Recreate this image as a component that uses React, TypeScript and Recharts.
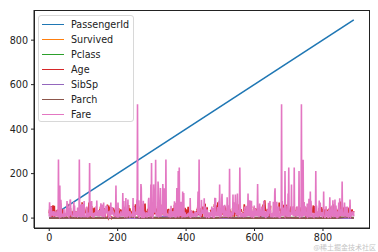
import React from "react";
import { Line, LineChart, XAxis, YAxis } from "recharts";

// Titanic train set, row index 0..890
const fare = [
  7.25, 71.2833, 7.925, 53.1, 8.05, 8.4583, 51.8625, 21.075, 11.1333, 30.0708, 16.7, 26.55, 8.05, 31.275, 7.8542, 16, 29.125, 13, 18, 7.225,
  26, 13, 8.0292, 35.5, 21.075, 31.3875, 7.225, 263, 7.8792, 7.8958, 27.7208, 146.5208, 7.75, 10.5, 82.1708, 52, 7.2292, 8.05, 18, 11.2417,
  9.475, 21, 7.8958, 41.5792, 7.8792, 8.05, 15.5, 7.75, 21.6792, 17.8, 39.6875, 7.8, 76.7292, 26, 61.9792, 35.5, 10.5, 7.2292, 27.75, 46.9,
  7.2292, 80, 83.475, 27.9, 27.7208, 15.2458, 10.5, 8.1583, 7.925, 8.6625, 10.5, 46.9, 73.5, 14.4542, 56.4958, 7.65, 7.8958, 8.05, 29, 12.475,
  9, 9.5, 7.7875, 47.1, 10.5, 15.85, 34.375, 8.05, 263, 8.05, 8.05, 7.8542, 61.175, 20.575, 7.25, 8.05, 34.6542, 63.3583, 23, 26,
  7.8958, 7.8958, 77.2875, 8.6542, 7.925, 7.8958, 7.65, 7.775, 7.8958, 24.15, 52, 14.4542, 8.05, 9.825, 14.4583, 7.925, 7.75, 21, 247.5208, 31.275,
  73.5, 8.05, 30.0708, 13, 77.2875, 11.2417, 7.75, 7.1417, 22.3583, 6.975, 7.8958, 7.05, 14.5, 26, 13, 15.0458, 26.2833, 53.1, 9.2167, 79.2,
  15.2458, 7.75, 15.85, 6.75, 11.5, 36.75, 7.7958, 34.375, 26, 13, 12.525, 66.6, 8.05, 14.5, 7.3125, 61.3792, 7.7333, 8.05, 8.6625, 69.55,
  16.1, 15.75, 7.775, 8.6625, 39.6875, 20.525, 55, 27.9, 25.925, 56.4958, 33.5, 29.125, 11.1333, 7.925, 30.6958, 7.8542, 25.4667, 28.7125, 13, 0,
  69.55, 15.05, 31.3875, 39, 22.025, 50, 15.5, 26.55, 15.5, 7.8958, 13, 13, 7.8542, 26, 27.7208, 146.5208, 7.75, 8.4042, 7.75, 13,
  9.5, 69.55, 6.4958, 7.225, 8.05, 10.4625, 15.85, 18.7875, 7.75, 31, 7.05, 21, 7.25, 13, 7.75, 113.275, 7.925, 27, 76.2917, 10.5,
  8.05, 13, 8.05, 7.8958, 90, 9.35, 10.5, 7.25, 13, 25.4667, 83.475, 7.775, 13.5, 31.3875, 10.5, 7.55, 26, 26.25, 10.5, 12.275,
  14.4542, 15.5, 10.5, 7.125, 7.225, 90, 7.775, 14.5, 52.5542, 26, 7.25, 10.4625, 26.55, 16.1, 20.2125, 15.2458, 79.2, 86.5, 512.3292, 26,
  7.75, 31.3875, 79.65, 0, 7.75, 10.5, 39.6875, 7.775, 153.4625, 135.6333, 31, 0, 19.5, 29.7, 7.75, 77.9583, 7.75, 0, 29.125, 20.25,
  7.75, 7.8542, 9.5, 8.05, 26, 8.6625, 9.5, 7.8958, 13, 7.75, 78.85, 91.0792, 12.875, 8.85, 7.8958, 27.7208, 7.2292, 151.55, 30.5, 247.5208,
  7.75, 23.25, 0, 12.35, 8.05, 151.55, 110.8833, 108.9, 24, 56.9292, 83.1583, 262.375, 26, 7.8958, 26.25, 7.8542, 26, 14, 164.8667, 134.5,
  7.25, 7.8958, 12.35, 29, 69.55, 135.6333, 6.2375, 13, 20.525, 57.9792, 23.25, 28.5, 153.4625, 18, 133.65, 7.8958, 66.6, 134.5, 8.05, 35.5,
  26, 263, 13, 13, 13, 13, 13, 16.1, 15.9, 8.6625, 9.225, 35, 7.2292, 17.8, 7.225, 9.5, 55, 13, 7.8792, 7.8792,
  27.9, 27.7208, 14.4542, 7.05, 15.5, 7.25, 75.25, 7.2292, 7.75, 69.3, 55.4417, 6.4958, 8.05, 135.6333, 21.075, 82.1708, 7.25, 211.5, 4.0125, 7.775,
  227.525, 15.7417, 7.925, 52, 7.8958, 73.5, 46.9, 13, 7.7292, 12, 120, 7.7958, 7.925, 113.275, 16.7, 7.7958, 7.8542, 26, 10.5, 12.65,
  7.925, 8.05, 9.825, 15.85, 8.6625, 21, 7.75, 18.75, 7.775, 25.4667, 7.8958, 6.8583, 90, 0, 7.925, 8.05, 32.5, 13, 13, 24.15,
  7.8958, 7.7333, 7.875, 14.4, 20.2125, 7.25, 26, 26, 7.75, 8.05, 26.55, 16.1, 26, 7.125, 55.9, 120, 34.375, 18.75, 263, 10.5,
  26.25, 9.5, 7.775, 13, 8.1125, 81.8583, 19.5, 26.55, 19.2583, 30.5, 27.75, 19.9667, 27.75, 89.1042, 8.05, 7.8958, 26.55, 51.8625, 10.5, 7.75,
  26.55, 8.05, 38.5, 13, 8.05, 7.05, 0, 26.55, 7.725, 19.2583, 7.25, 8.6625, 27.75, 13.7917, 9.8375, 52, 21, 7.0458, 7.5208, 12.2875,
  46.9, 0, 8.05, 9.5875, 91.0792, 25.4667, 90, 29.7, 8.05, 15.9, 19.9667, 7.25, 30.5, 49.5042, 8.05, 14.4583, 78.2667, 15.1, 151.55, 7.7958,
  8.6625, 7.75, 7.6292, 9.5875, 86.5, 108.9, 26, 26.55, 22.525, 56.4958, 7.75, 8.05, 26.2875, 59.4, 7.4958, 34.0208, 10.5, 24.15, 26, 7.8958,
  93.5, 7.8958, 7.225, 57.9792, 7.2292, 7.75, 10.5, 221.7792, 7.925, 11.5, 26, 7.2292, 7.2292, 22.3583, 8.6625, 26.25, 26.55, 106.425, 14.5, 49.5,
  71, 31.275, 31.275, 26, 106.425, 26, 26, 13.8625, 20.525, 36.75, 110.8833, 26, 7.8292, 7.225, 7.775, 26.55, 39.6, 227.525, 79.65, 17.4,
  7.75, 7.8958, 13.5, 8.05, 8.05, 24.15, 7.8958, 21.075, 7.2292, 7.8542, 10.5, 51.4792, 26.3875, 7.75, 8.05, 14.5, 13, 55.9, 14.4583, 7.925,
  30, 110.8833, 26, 40.125, 8.7125, 79.65, 15, 79.2, 8.05, 8.05, 7.125, 78.2667, 7.25, 7.75, 26, 24.15, 33, 0, 7.225, 56.9292,
  27, 7.8958, 42.4, 8.05, 26.55, 15.55, 7.8958, 30.5, 41.5792, 153.4625, 31.275, 7.05, 15.5, 7.75, 8.05, 65, 14.4, 16.1, 39, 10.5,
  14.4542, 52.5542, 15.7417, 7.8542, 16.1, 32.3208, 12.35, 77.9583, 7.8958, 7.7333, 30, 7.0542, 30.5, 0, 27.9, 13, 7.925, 26.25, 39.6875, 16.1,
  7.8542, 69.3, 27.9, 56.4958, 19.2583, 76.7292, 7.8958, 35.5, 7.55, 7.55, 7.8958, 23, 8.4333, 7.8292, 6.75, 73.5, 7.8958, 15.5, 13, 113.275,
  133.65, 7.225, 25.5875, 7.4958, 7.925, 73.5, 13, 7.775, 8.05, 52, 39, 52, 10.5, 13, 0, 7.775, 8.05, 9.8417, 46.9, 512.3292,
  8.1375, 76.7292, 9.225, 46.9, 39, 41.5792, 39.6875, 10.1708, 7.7958, 211.3375, 57, 13.4167, 56.4958, 7.225, 26.55, 13.5, 8.05, 7.7333, 110.8833, 7.65,
  227.525, 26.2875, 14.4542, 7.7417, 7.8542, 26, 13.5, 26.2875, 151.55, 15.2458, 49.5042, 26.55, 52, 9.4833, 13, 7.65, 227.525, 10.5, 15.5, 7.775,
  33, 7.0542, 13, 13, 53.1, 8.6625, 21, 7.7375, 26, 7.925, 211.3375, 18.7875, 0, 13, 13, 16.1, 34.375, 512.3292, 7.8958, 7.8958,
  30, 78.85, 262.375, 16.1, 7.925, 71, 20.25, 13, 53.1, 7.75, 23, 12.475, 9.5, 7.8958, 65, 14.5, 7.7958, 11.5, 8.05, 86.5,
  14.5, 7.125, 7.2292, 120, 7.775, 77.9583, 39.6, 7.75, 24.15, 8.3625, 9.5, 7.8542, 10.5, 7.225, 23, 7.75, 7.75, 12.475, 7.7375, 211.3375,
  7.2292, 57, 30, 23.45, 7.05, 7.25, 7.4958, 29.125, 20.575, 79.2, 7.75, 26, 69.55, 30.6958, 7.8958, 13, 25.9292, 8.6833, 7.2292, 24.15,
  13, 26.25, 120, 8.5167, 6.975, 7.775, 0, 7.775, 13, 53.1, 7.8875, 24.15, 10.5, 31.275, 8.05, 0, 7.925, 37.0042, 6.45, 27.9,
  93.5, 8.6625, 0, 12.475, 39.6875, 6.95, 56.4958, 37.0042, 7.75, 80, 14.4542, 18.75, 7.2292, 7.8542, 8.3, 83.1583, 8.6625, 8.05, 56.4958, 29.7,
  7.925, 10.5, 31, 6.4375, 8.6625, 7.55, 69.55, 7.8958, 33, 89.1042, 31.275, 7.775, 15.2458, 39.4, 26, 9.35, 164.8667, 26.55, 19.2583, 7.2292,
  14.1083, 11.5, 25.9292, 69.55, 13, 13, 13.8583, 50.4958, 9.5, 11.1333, 7.8958, 52.5542, 5, 9, 24, 7.225, 9.8458, 7.8958, 7.8958, 83.1583,
  26, 7.8958, 10.5167, 10.5, 7.05, 29.125, 13, 30, 23.45, 30, 7.75,
];

const N = null;
const age = [
  22, 38, 26, 35, 35, N, 54, 2, 27, 14, 4, 58, 20, 39, 14, 55, 2, N, 31, N, 35, 34, 15, 28, 8, 38, N, 19, N, N,
  40, N, N, 66, 28, 42, N, 21, 18, 14, 40, 27, N, 3, 19, N, N, N, N, 18, 7, 21, 49, 29, 65, N, 21, 28.5, 5, 11,
  22, 38, 45, 4, N, N, 29, 19, 17, 26, 32, 16, 21, 26, 32, 25, N, N, 0.83, 30, 22, 29, N, 28, 17, 33, 16, N, 23, 24,
  29, 20, 46, 26, 59, N, 71, 23, 34, 34, 28, N, 21, 33, 37, 28, 21, N, 38, N, 47, 14.5, 22, 20, 17, 21, 70.5, 29, 24, 2,
  21, N, 32.5, 32.5, 54, 12, N, 24, N, 45, 33, 20, 47, 29, 25, 23, 19, 37, 16, 24, N, 22, 24, 19, 18, 19, 27, 9, 36.5, 42,
  51, 22, 55.5, 40.5, N, 51, 16, 30, N, N, 44, 40, 26, 17, 1, 9, N, 45, N, 28, 61, 4, 1, 21, 56, 18, N, 50, 30, 36,
  N, N, 9, 1, 4, N, N, 45, 40, 36, 32, 19, 19, 3, 44, 58, N, 42, N, 24, 28, N, 34, 45.5, 18, 2, 32, 26, 16, 40,
  24, 35, 22, 30, N, 31, 27, 42, 32, 30, 16, 27, 51, N, 38, 22, 19, 20.5, 18, N, 35, 29, 59, 5, 24, N, 44, 8, 19, 33,
  N, N, 29, 22, 30, 44, 25, 24, 37, 54, N, 29, 62, 30, 41, 29, N, 30, 35, 50, N, 3, 52, 40, N, 36, 16, 25, 58, 35,
  N, 25, 41, 37, N, 63, 45, N, 7, 35, 65, 28, 16, 19, N, 33, 30, 22, 42, 22, 26, 19, 36, 24, 24, N, 23.5, 2, N, 50,
  N, N, 19, N, N, 0.92, N, 17, 30, 30, 24, 18, 26, 28, 43, 26, 24, 54, 31, 40, 22, 27, 30, 22, N, 36, 61, 36, 31, 16,
  N, 45.5, 38, 16, N, N, 29, 41, 45, 45, 2, 24, 28, 25, 36, 24, 40, N, 3, 42, 23, N, 15, 25, N, 28, 22, 38, N, N,
  40, 29, 45, 35, N, 30, 60, N, N, 24, 25, 18, 19, 22, 3, N, 22, 27, 20, 19, 42, 1, 32, 35, N, 18, 1, 36, N, 17,
  36, 21, 28, 23, 24, 22, 31, 46, 23, 28, 39, 26, 21, 28, 20, 34, 51, 3, 21, N, N, N, 33, N, 44, N, 34, 18, 30, 10,
  N, 21, 29, 28, 18, N, 28, 19, N, 32, 28, N, 42, 17, 50, 14, 21, 24, 64, 31, 45, 20, 25, 28, N, 4, 13, 34, 5, 52,
  36, N, 30, 49, N, 29, 65, N, 50, N, 48, 34, 47, 48, N, 38, N, 56, N, 0.75, N, 38, 33, 23, 22, N, 34, 29, 22, 2,
  9, N, 50, 63, 25, N, 35, 58, 30, 9, N, 21, 55, 71, 21, N, 54, N, 25, 24, 17, 21, N, 37, 16, 18, 33, N, 28, 26,
  29, N, 36, 54, 24, 47, 34, N, 36, 32, 30, 22, N, 44, N, 40.5, 50, N, 39, 23, 2, N, 17, N, 30, 7, 45, 30, N, 22, 36, 9,
  11, 32, 50, 64, 19, N, 33, 8, 17, 27, N, 22, 22, 62, 48, N, 39, 36, N, 40, 28, N, N, 24, 19, 29, N, 32, 62, 53,
  36, N, 16, 19, 34, 39, N, 32, 25, 39, 54, 36, N, 18, 47, 60, 22, N, 35, 52, 47, N, 37, 36, N, 49, N, 49, 24, N, N,
  44, 35, 36, 30, 27, 22, 40, 39, N, N, N, 35, 24, 34, 26, 4, 26, 27, 42, 20, 21, 21, 61, 57, 21, 26, N, 80, 51, 32,
  N, 9, 28, 32, 31, 41, N, 20, 24, 2, N, 0.75, 48, 19, 56, N, 23, N, 18, 21, N, 18, 24, N, 32, 23, 58, 50, 40, 47,
  36, 20, 32, 25, N, 43, N, 40, 31, 70, 31, N, 18, 24.5, 18, 43, 36, N, 27, 20, 14, 60, 25, 14, 19, 18, 15, 31, 4, N,
  25, 60, 52, 44, N, 49, 42, 18, 35, 18, 25, 26, 39, 45, 42, 22, N, 24, N, 48, 29, 52, 19, 38, 27, N, 33, 6, 17, 34,
  50, 27, 20, 30, N, 25, 25, 29, 11, N, 23, 23, 28.5, 48, 35, N, N, N, 36, 21, 24, 31, 70, 16, 30, 19, 31, 4, 6, 33,
  23, 48, 0.67, 28, 18, 34, 33, N, 41, 20, 36, 16, 51, N, 30.5, N, 32, 24, 48, 57, N, 54, 18, N, 5, N, 43, 13, 17, 29,
  N, 25, 25, 18, 8, 1, 46, N, 16, N, N, 25, 39, 49, 31, 30, 30, 34, 31, 11, 0.42, 27, 31, 39, 18, 39, 33, 26, 39, 35,
  6, 30.5, N, 23, 31, 43, 10, 52, 27, 38, 27, 2, N, N, 1, N, 62, 15, 0.83, N, 23, 18, 39, 21, N, 32, N, 20, 16, 30,
  34.5, 17, 42, N, 35, 28, N, 4, 74, 9, 16, 44, 18, 45, 51, 24, N, 41, 21, 48, N, 24, 42, 27, 31, N, 4, 26, 47, 33,
  47, 28, 15, 20, 19, N, 56, 25, 33, 22, 28, 25, 39, 27, 19, N, 26, 32,
];

// small-valued columns, read at every 30th row
const sampleIdx = [0, 30, 60, 90, 120, 150, 180, 210, 240, 270, 300, 330, 360, 390, 420, 450, 480, 510, 540, 570, 600, 630, 660, 690, 720, 750, 780, 810, 840, 870, 890];
const survived = [0, 1, 0, 0, 1, 0, 0, 1, 0, 1, 0, 0, 0, 1, 0, 1, 0, 0, 1, 0, 0, 1, 0, 0, 0, 1, 1, 0, 0, 1, 0];
const pclass = [3, 1, 3, 2, 3, 3, 1, 3, 2, 3, 3, 1, 3, 3, 2, 3, 1, 3, 3, 2, 3, 3, 1, 3, 2, 3, 3, 1, 3, 3, 3];
const sibsp = [1, 0, 0, 4, 1, 0, 0, 2, 0, 1, 0, 8, 0, 1, 0, 0, 3, 0, 1, 0, 0, 5, 0, 1, 0, 0, 2, 0, 1, 0, 0];
const parch = [0, 0, 2, 0, 1, 0, 0, 0, 5, 0, 2, 0, 0, 1, 0, 0, 0, 4, 0, 0, 1, 0, 0, 2, 0, 0, 0, 1, 0, 6, 0];

const idEndIdx = [0, 890];
const passengerId = [1, 891];

const xTicks = [0, 200, 400, 600, 800];
const yTicks = [0, 200, 400, 600, 800];

const series = [
  { name: "PassengerId", color: "#1f77b4" },
  { name: "Survived", color: "#ff7f0e" },
  { name: "Pclass", color: "#2ca02c" },
  { name: "Age", color: "#d62728" },
  { name: "SibSp", color: "#9467bd" },
  { name: "Parch", color: "#8c564b" },
  { name: "Fare", color: "#e377c2" },
];

const rows = fare.map((f, i) => ({ i, fare: f, age: age[i] ?? null }));
const idRows = idEndIdx.map((i, k) => ({ i, v: passengerId[k] }));
const smallRows = sampleIdx.map((i, k) => ({
  i,
  survived: survived[k],
  pclass: pclass[k],
  sibsp: sibsp[k],
  parch: parch[k],
}));

const font = "'DejaVu Sans', sans-serif";
const tickStyle = { fontSize: 9.6, fill: "#222", fontFamily: font };
const lw = 1.6;

function LegendBox() {
  return (
    <div
      style={{
        position: "absolute",
        left: 38,
        top: 15,
        width: 96,
        height: 107,
        border: "1px solid #d8d8d8",
        borderRadius: 3,
        background: "rgba(255,255,255,0.85)",
        fontFamily: font,
        fontSize: 9.6,
        color: "#222",
        paddingTop: 1,
        boxSizing: "border-box",
      }}
    >
      {series.map((s) => (
        <div key={s.name} style={{ display: "flex", alignItems: "center", height: 15 }}>
          <span style={{ display: "inline-block", width: 22, height: 1.6, background: s.color, marginLeft: 3, marginRight: 7 }} />
          <span>{s.name}</span>
        </div>
      ))}
    </div>
  );
}

export default function App() {
  return (
    <div style={{ position: "absolute", left: 0, top: 0, width: 378, height: 252, background: "#fff" }}>
      <LineChart width={378} height={252} margin={{ top: 10, right: 9, left: 0, bottom: 0 }}>
        <XAxis
          dataKey="i"
          type="number"
          domain={[-44.5, 934.5]}
          ticks={xTicks}
          allowDataOverflow
          height={24}
          tickSize={3}
          tickMargin={3}
          tick={tickStyle}
          stroke="#222"
          tickLine={{ stroke: "#222" }}
        />
        <YAxis
          type="number"
          domain={[-44.5, 935.5]}
          ticks={yTicks}
          allowDataOverflow
          width={34}
          tickSize={3}
          tickMargin={3}
          tick={tickStyle}
          stroke="#222"
          tickLine={{ stroke: "#222" }}
        />
        <Line data={idRows} dataKey="v" stroke={series[0].color} strokeWidth={lw} dot={false} isAnimationActive={false} />
        <Line data={smallRows} dataKey="survived" stroke={series[1].color} strokeWidth={lw} dot={false} isAnimationActive={false} />
        <Line data={smallRows} dataKey="pclass" stroke={series[2].color} strokeWidth={lw} dot={false} isAnimationActive={false} />
        <Line data={rows} dataKey="age" stroke={series[3].color} strokeWidth={lw} dot={false} isAnimationActive={false} />
        <Line data={smallRows} dataKey="sibsp" stroke={series[4].color} strokeWidth={lw} dot={false} isAnimationActive={false} />
        <Line data={smallRows} dataKey="parch" stroke={series[5].color} strokeWidth={lw} dot={false} isAnimationActive={false} />
        <Line data={rows} dataKey="fare" stroke={series[6].color} strokeWidth={lw} dot={false} isAnimationActive={false} />
      </LineChart>
      {/* matplotlib-style frame around the plot area */}
      <div
        style={{
          position: "absolute",
          left: 33.5,
          top: 9.5,
          width: 336,
          height: 219,
          border: "1px solid #222",
          boxSizing: "border-box",
          pointerEvents: "none",
        }}
      />
      <LegendBox />
      <div
        style={{
          position: "absolute",
          right: 2,
          top: 243.5,
          lineHeight: 1,
          fontFamily: "'Noto Sans CJK SC', sans-serif",
          fontSize: 7,
          color: "#c4c4c4",
        }}
      >
        @稀土掘金技术社区
      </div>
    </div>
  );
}
